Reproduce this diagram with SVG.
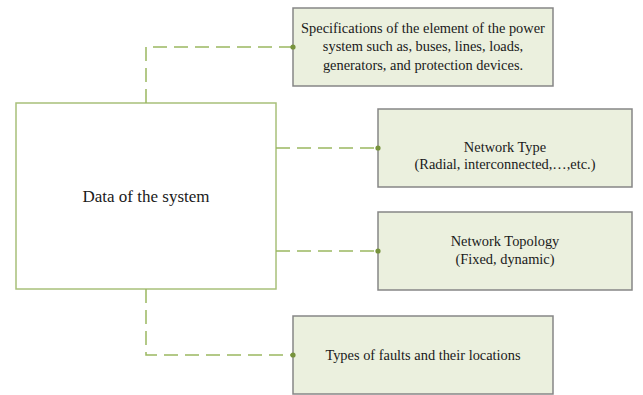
<svg xmlns="http://www.w3.org/2000/svg" width="643" height="395" viewBox="0 0 643 395">
  <style>
    .main { fill: #ffffff; stroke: #a8c07a; stroke-width: 1.5; }
    .item { fill: #ebf0de; stroke: #868686; stroke-width: 1.5; }
    .link { fill: none; stroke: #9bb860; stroke-width: 1.5; stroke-dasharray: 14 7; }
    .dot { fill: #77933c; }
    text { font-family: "Liberation Serif", "Times New Roman", serif; fill: #1a1a1a; text-anchor: middle; }
    .t13 { font-size: 14.4px; }
    .t16 { font-size: 17px; }
  </style>
  <rect width="643" height="395" fill="#ffffff"/>

  <g id="data-of-system">
    <rect class="main" x="16" y="103" width="260" height="186"/>
    <text class="t16" x="146" y="202">Data of the system</text>
  </g>

  <g id="specifications">
    <rect class="item" x="293" y="8" width="260" height="78"/>
    <text class="t13" x="423" y="33">Specifications of the element of the power</text>
    <text class="t13" x="423" y="51">system such as, buses, lines, loads,</text>
    <text class="t13" x="423" y="69.5">generators, and protection devices.</text>
  </g>

  <g id="network-type">
    <rect class="item" x="378" y="109" width="254" height="78"/>
    <text class="t13" x="505" y="151.5">Network Type</text>
    <text class="t13" x="505" y="168.5">(Radial, interconnected,…,etc.)</text>
  </g>

  <g id="network-topology">
    <rect class="item" x="378" y="212" width="254" height="78"/>
    <text class="t13" x="505" y="246">Network Topology</text>
    <text class="t13" x="505" y="263.5">(Fixed, dynamic)</text>
  </g>

  <g id="fault-types">
    <rect class="item" x="293" y="316" width="260" height="78"/>
    <text class="t13" x="423" y="360">Types of faults and their locations</text>
  </g>

  <!-- dashed links from the data box, with a dot where each meets its item -->
  <g id="connectors">
    <path class="link" d="M146 103 V47 H292"/>
    <path class="link" d="M276 148 H377"/>
    <path class="link" d="M276 251 H377"/>
    <path class="link" d="M146 289 V355 H292"/>
    <circle class="dot" cx="293" cy="47" r="2.6"/>
    <circle class="dot" cx="378" cy="148" r="2.6"/>
    <circle class="dot" cx="378" cy="251" r="2.6"/>
    <circle class="dot" cx="293" cy="355" r="2.6"/>
  </g>
</svg>
